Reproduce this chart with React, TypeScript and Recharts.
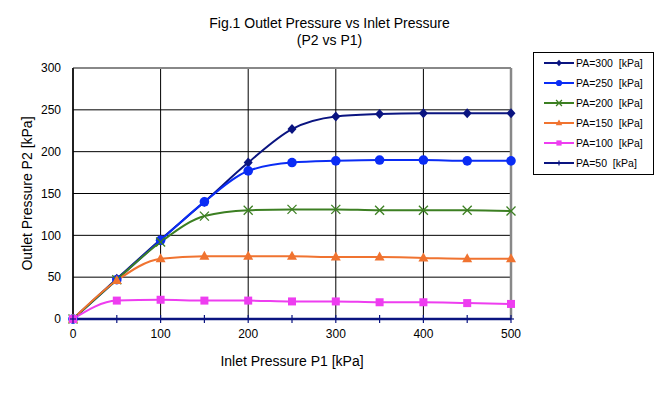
import { LineChart, Line, XAxis, YAxis, CartesianGrid, ReferenceLine, Label } from 'recharts';

const inletP1 = [0, 50, 100, 150, 200, 250, 300, 350, 400, 450, 500];
const pa300 = [0, 48, 95, 140, 187, 227, 242, 245, 246, 246, 246];
const pa250 = [0, 47, 94, 140, 177, 187, 189, 190, 190, 189, 189];
const pa200 = [0, 47, 92, 123, 130, 131, 131, 130, 130, 130, 129];
const pa150 = [0, 46, 72, 75, 75, 75, 74, 74, 73, 72, 72];
const pa100 = [0, 22, 23, 22, 22, 21, 21, 20, 20, 19, 18];
const pa50 = [0, 0, 0, 0, 0, 0, 0, 0, 0, 0, 0];
const xTicks = [0, 100, 200, 300, 400, 500];
const yTicks = [0, 50, 100, 150, 200, 250, 300];

const FONT = '"Liberation Sans", Arial, sans-serif';

// one row per inlet pressure
const rows = inletP1.map((p1, i) => ({
  p1,
  pa300: pa300[i],
  pa250: pa250[i],
  pa200: pa200[i],
  pa150: pa150[i],
  pa100: pa100[i],
  pa50: pa50[i],
}));

type Shape = 'diamond' | 'circle' | 'cross' | 'triangle' | 'square' | 'plus';

const Marker = ({ cx, cy, shape, color, k = 1 }: { cx: number; cy: number; shape: Shape; color: string; k?: number }) => {
  switch (shape) {
    case 'diamond':
      return <polygon points={`${cx},${cy - 5 * k} ${cx + 4.5 * k},${cy} ${cx},${cy + 5 * k} ${cx - 4.5 * k},${cy}`} fill={color} />;
    case 'circle':
      return <circle cx={cx} cy={cy} r={4.8 * k} fill={color} />;
    case 'cross':
      return (
        <g stroke={color} strokeWidth={1.3}>
          <line x1={cx - 4.5 * k} y1={cy - 4.5 * k} x2={cx + 4.5 * k} y2={cy + 4.5 * k} />
          <line x1={cx - 4.5 * k} y1={cy + 4.5 * k} x2={cx + 4.5 * k} y2={cy - 4.5 * k} />
        </g>
      );
    case 'triangle':
      return <polygon points={`${cx},${cy - 5.5 * k} ${cx + 5 * k},${cy + 3.5 * k} ${cx - 5 * k},${cy + 3.5 * k}`} fill={color} />;
    case 'square':
      return <rect x={cx - 4 * k} y={cy - 4 * k} width={8 * k} height={8 * k} fill={color} />;
    default:
      return (
        <g stroke={color} strokeWidth={1.2}>
          <line x1={cx} y1={cy - 4 * k} x2={cx} y2={cy + 4 * k} />
          <line x1={cx - 3 * k} y1={cy} x2={cx + 3 * k} y2={cy} />
        </g>
      );
  }
};

const SERIES: { key: string; name: string; color: string; shape: Shape; width: number }[] = [
  { key: 'pa300', name: 'PA=300 [kPa]', color: '#0a1480', shape: 'diamond', width: 2 },
  { key: 'pa250', name: 'PA=250 [kPa]', color: '#0a2cf5', shape: 'circle', width: 2 },
  { key: 'pa200', name: 'PA=200 [kPa]', color: '#3c7f22', shape: 'cross', width: 2 },
  { key: 'pa150', name: 'PA=150 [kPa]', color: '#f07330', shape: 'triangle', width: 2 },
  { key: 'pa100', name: 'PA=100 [kPa]', color: '#ee3df0', shape: 'square', width: 2 },
  { key: 'pa50', name: 'PA=50 [kPa]', color: '#0a1480', shape: 'plus', width: 2.5 },
];

const LegendBox = () => (
  <div
    style={{
      position: 'absolute',
      left: 533,
      top: 52,
      width: 121,
      height: 123,
      border: '1px solid #000',
      background: '#fff',
      boxSizing: 'border-box',
      fontFamily: FONT,
      fontSize: 10.5,
    }}
  >
    {SERIES.map((s, i) => (
      <div key={s.key} style={{ position: 'absolute', left: 9, top: 3 + i * 20, height: 14, display: 'flex', alignItems: 'center' }}>
        <svg width={32} height={14}>
          <line x1={1} y1={7} x2={31} y2={7} stroke={s.color} strokeWidth={2} />
          <Marker cx={16} cy={7} shape={s.shape} color={s.color} k={0.65} />
        </svg>
        <span style={{ marginLeft: 1, whiteSpace: 'pre' }}>{s.name.replace(' ', '  ')}</span>
      </div>
    ))}
  </div>
);

export default function App() {
  return (
    <div style={{ position: 'absolute', left: 0, top: 0, width: 659, height: 395, background: '#fff' }}>
      <div
        style={{
          position: 'absolute',
          left: 0,
          top: 15,
          width: 659,
          textAlign: 'center',
          fontFamily: FONT,
          fontSize: 14,
          lineHeight: '17px',
          color: '#000',
        }}
      >
        Fig.1 Outlet Pressure vs Inlet Pressure
        <br />
        (P2 vs P1)
      </div>
      <LineChart width={659} height={395} data={rows} margin={{ top: 68, right: 148, bottom: 46, left: 33 }}>
        <CartesianGrid stroke="#000" strokeWidth={1} />
        <XAxis
          dataKey="p1"
          type="number"
          domain={[0, 500]}
          ticks={xTicks}
          height={30}
          tickLine={false}
          axisLine={false}
          tick={{ fill: '#000', fontSize: 12, fontFamily: FONT }}
          tickMargin={4}
        >
          <Label value="Inlet Pressure P1 [kPa]" position="bottom" offset={7} style={{ fill: '#000', fontSize: 14, fontFamily: FONT }} />
        </XAxis>
        <YAxis
          type="number"
          domain={[0, 300]}
          ticks={yTicks}
          width={40}
          tickLine={false}
          axisLine={{ stroke: '#000', strokeWidth: 1.5 }}
          tick={{ fill: '#000', fontSize: 12, fontFamily: FONT }}
          tickMargin={6}
        >
          <Label
            value="Outlet Pressure P2 [kPa]"
            angle={-90}
            position="left"
            offset={6}
            style={{ fill: '#000', fontSize: 14, fontFamily: FONT, textAnchor: 'middle' }}
          />
        </YAxis>
        <ReferenceLine y={300} stroke="#888" strokeWidth={2} />
        <ReferenceLine x={500} stroke="#888" strokeWidth={2.5} />
        {SERIES.map((s) => (
          <Line
            key={s.key}
            dataKey={s.key}
            name={s.name}
            type="monotone"
            stroke={s.color}
            strokeWidth={s.width}
            isAnimationActive={false}
            activeDot={false}
            dot={(p: any) => <Marker key={`${s.key}-${p.index}`} cx={p.cx} cy={p.cy} shape={s.shape} color={s.color} />}
          />
        ))}
      </LineChart>
      <LegendBox />
    </div>
  );
}
